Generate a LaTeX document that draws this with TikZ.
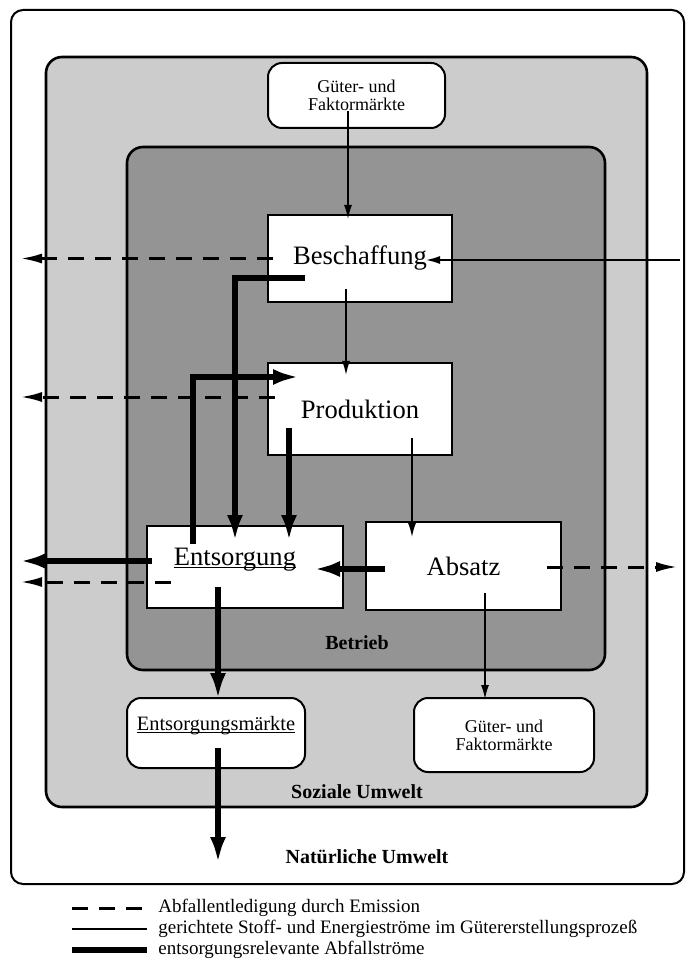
\documentclass[tikz,border=0pt]{standalone}
\usepackage{fontspec}
\setmainfont{Liberation Serif}
\usetikzlibrary{arrows.meta,calc}

\begin{document}
\begin{tikzpicture}[x=0.5pt,y=-0.5pt,
    box/.style={draw=black,line width=1pt,fill=white,inner sep=0pt,font=\fontsize{13.3}{16}\selectfont},
    markt/.style={draw=black,line width=1pt,fill=white,rounded corners=7pt,inner sep=0pt,align=center,font=\fontsize{9}{9}\selectfont},
    area/.style={font=\bfseries\fontsize{10}{12}\selectfont},
    legtext/.style={anchor=west,inner sep=0pt,font=\fontsize{9.5}{11}\selectfont},
    flow/.style={line width=0.75pt,-{Latex[length=7pt,width=4pt]}},
    waste/.style={line width=2.6pt,-{Latex[length=13pt,width=8pt]}},
    emis/.style={line width=1.5pt,dash pattern=on 8pt off 5.5pt,-{Latex[length=11pt,width=5pt]}}]
    \useasboundingbox (0,0) rectangle (687,967);
    % umwelt and betrieb
    \draw [line width=1pt,rounded corners=6pt] (11,10) rectangle (684,884);
    \draw [line width=1.3pt,fill=black!20,rounded corners=8pt] (46,57) rectangle (647,807);
    \draw [line width=1.3pt,fill=black!42,rounded corners=8pt] (127,147) rectangle (605,670);
    \node [area] (betrieb) at (357,643) {Betrieb};
    \node [area] (soziale) at (357,792) {Soziale Umwelt};
    \node [area] (natur) at (367,857) {Natürliche Umwelt};
    % functions
    \node [markt,minimum width=88.5pt,minimum height=32.5pt] (gtop) at (356.5,95.5) {Güter- und\\Faktormärkte};
    \node [box,minimum width=92pt,minimum height=43.5pt] (besch) at (360,258.5) {Beschaffung};
    \node [box,minimum width=92pt,minimum height=46pt] (prod) at (360,409) {Produktion};
    \node [box,minimum width=98pt,minimum height=41pt] (ents) at (245,567) {\underline{\smash{Entsorgung}}\hspace*{10pt}};
    \node [box,minimum width=97.5pt,minimum height=44pt] (absatz) at (463.5,566) {Absatz};
    \node [markt,minimum width=89pt,minimum height=35pt,font=\fontsize{10.2}{12}\selectfont] (emkt) at (216,733) {\raisebox{3pt}{\underline{\smash{Entsorgungsmärkte}}}};
    \node [markt,minimum width=90pt,minimum height=37pt] (gbot) at (504,735) {Güter- und\\Faktormärkte};
    % free ends
    \coordinate (rin) at (680,260);
    \coordinate (lbesch) at (20,258.5);
    \coordinate (lprod) at (20,397);
    \coordinate (lents) at (20,561);
    \coordinate (lentsd) at (20,582);
    \coordinate (rabs) at (678,567);
    \coordinate (unten) at (218,863);
    % stoff- und energiestroeme
    \draw [flow] ($(gtop.center)+(-8.5,15.5)$) -- ($(besch.north)+(-12,5)$);
    \draw [flow] ($(besch.south)+(-14,-14)$) -- ($(prod.north)+(-14,13)$);
    \draw [flow] ($(prod.south)+(52,-18)$) -- ($(absatz.north)+(-51.5,16)$);
    \draw [flow] ($(absatz.south)+(21.5,-18)$) -- ($(gbot.north)+(-19,2)$);
    \draw [flow] (rin) -- ($(besch.east)+(-27,1.5)$);
    % emission
    \draw [emis] ($(besch.west)+(6,0)$) -- (lbesch);
    \draw [emis] ($(prod.west)+(8,-12)$) -- (lprod);
    \draw [emis] ($(ents.west)+(25,15)$) -- (lentsd);
    \draw [emis] ($(absatz.east)+(-15,1)$) -- (rabs);
    % abfallstroeme
    \draw [waste] ($(besch.south)+(-55,-25)$) -| ($(ents.north)+(-10,16)$);
    \draw [waste] ($(ents.north)+(-52,19)$) |- ($(prod.west)+(32,-32)$);
    \draw [waste] ($(prod.south)+(-71,-28)$) -- ($(ents.north)+(44,16)$);
    \draw [waste] ($(absatz.west)+(20,3)$) -- ($(ents.east)+(-30,2)$);
    \draw [waste] ($(ents.west)+(6,-6)$) -- (lents);
    \draw [waste] ($(ents.south)+(-27,-22)$) -- ($(emkt.north)+(2,2)$);
    \draw [waste] ($(emkt.south)+(2,-21)$) -- (unten);
    % legende
    \node [legtext] (leg1) at (158,908) {Abfallentledigung durch Emission};
    \node [legtext] (leg2) at (158,929) {gerichtete Stoff- und Energieströme im Gütererstellungsprozeß};
    \node [legtext] (leg3) at (158,950) {entsorgungsrelevante Abfallströme};
    \draw [emis,-] ($(leg1.west)+(-86,0)$) -- ($(leg1.west)+(-11,0)$);
    \draw [flow,-] ($(leg2.west)+(-86,0)$) -- ($(leg2.west)+(-11,0)$);
    \draw [waste,-] ($(leg3.west)+(-86,0)$) -- ($(leg3.west)+(-11,0)$);
\end{tikzpicture}
\end{document}
